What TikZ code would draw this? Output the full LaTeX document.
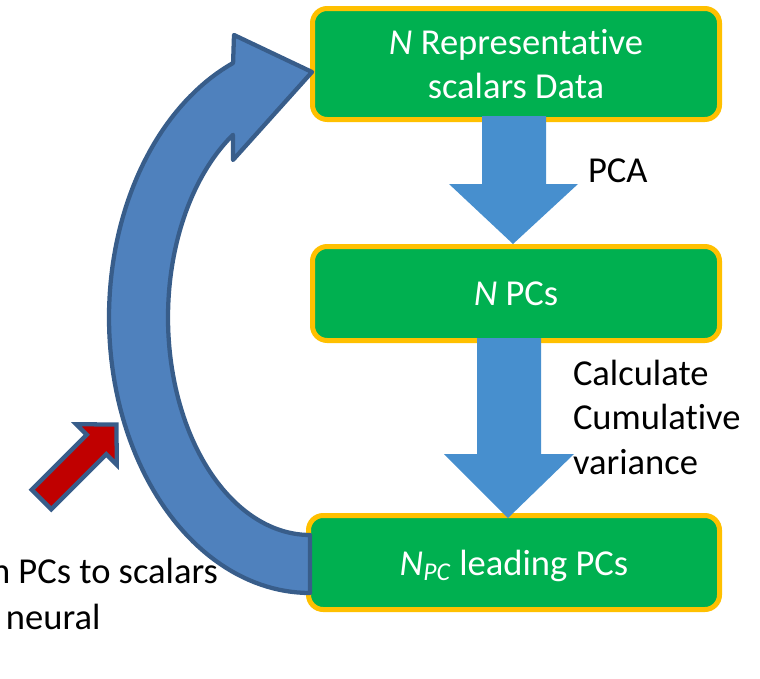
\documentclass[tikz,border=0pt]{standalone}
\usepackage{fontspec}
\setmainfont{Carlito}[Ligatures=NoCommon]
\definecolor{boxgreen}{RGB}{0,176,80}
\definecolor{boxorange}{RGB}{255,192,0}
\definecolor{flowblue}{RGB}{71,143,206}
\definecolor{loopfill}{RGB}{79,129,189}
\definecolor{loopline}{RGB}{56,93,138}
\definecolor{darkred}{RGB}{192,0,0}
\tikzset{
  stepbox/.style={fill=boxgreen, draw=boxorange, line width=3.75pt, rounded corners=11pt,
    text=white, align=center, inner sep=0pt, outer sep=0pt,
    font=\fontsize{27.4pt}{33.4pt}\selectfont},
  lbl/.style={text=black, inner sep=0pt, outer sep=0pt, font=\fontsize{27.4pt}{33.4pt}\selectfont},
  flow/.style={fill=flowblue, draw=none},
  loop/.style={fill=loopfill, draw=loopline, line width=3.2pt, line join=round},
  push/.style={fill=darkred, draw=loopline, line width=3.2pt, line join=miter}
}
\begin{document}
\begin{tikzpicture}[x=0.75pt, y=-0.75pt]
\useasboundingbox (0,0) rectangle (760,678);
% boxes
\node[stepbox, minimum width=305.25pt, minimum height=83.25pt] (b1) at (516,64)
  {\textit{N} Representative\\scalars Data};
\node[stepbox, minimum width=305.25pt, minimum height=70.5pt] (b2) at (516,293.5)
  {\textit{N} PCs};
\node[stepbox, minimum width=308.25pt, minimum height=70.5pt, text depth=0pt] (b3) at (514,562.5)
  {\textit{N}\textsubscript{\textit{PC}} leading PCs};
% block arrows between boxes
\coordinate (a1t) at (513,244);
\fill[flow] (482,116) -- (546,116) -- (546,184) -- (578,184) -- (a1t) -- (449,184) -- (482,184) -- cycle;
\coordinate (a2t) at (508,518);
\fill[flow] (477,338) -- (541,338) -- (541,454) -- (574,454) -- (a2t) -- (444,454) -- (477,454) -- cycle;
% curved loop arrow
\draw[loop] plot[domain=90:247.5, samples=90] ({310+201*cos(\x)},{317.5+275.5*sin(\x)})
  -- (234,35) -- (312,72) -- (233,160) -- (233,135)
  -- plot[domain=237.2:90, samples=90] ({310+142*cos(\x)},{317.5+217.5*sin(\x)}) -- cycle;
% red arrow
\draw[push] (116.5,424.5) -- (76.25,424.25) -- (86.75,434.75) -- (31.75,489.75)
  -- (51.25,509.25) -- (106.25,454.25) -- (116.75,464.75) -- cycle;
% labels
\node[lbl, anchor=base west] (pca) at (588,182) {PCA};
\node[lbl, anchor=base west] (cum) at (573,385)
  {\begin{tabular}[t]{@{}l@{}}Calculate\\Cumulative\\variance\end{tabular}};
\node[lbl, anchor=base east] (map1) at (218,583) {n PCs to scalars};
\node[lbl, anchor=base west] (map2) at (6,629) {neural};
\end{tikzpicture}
\end{document}
